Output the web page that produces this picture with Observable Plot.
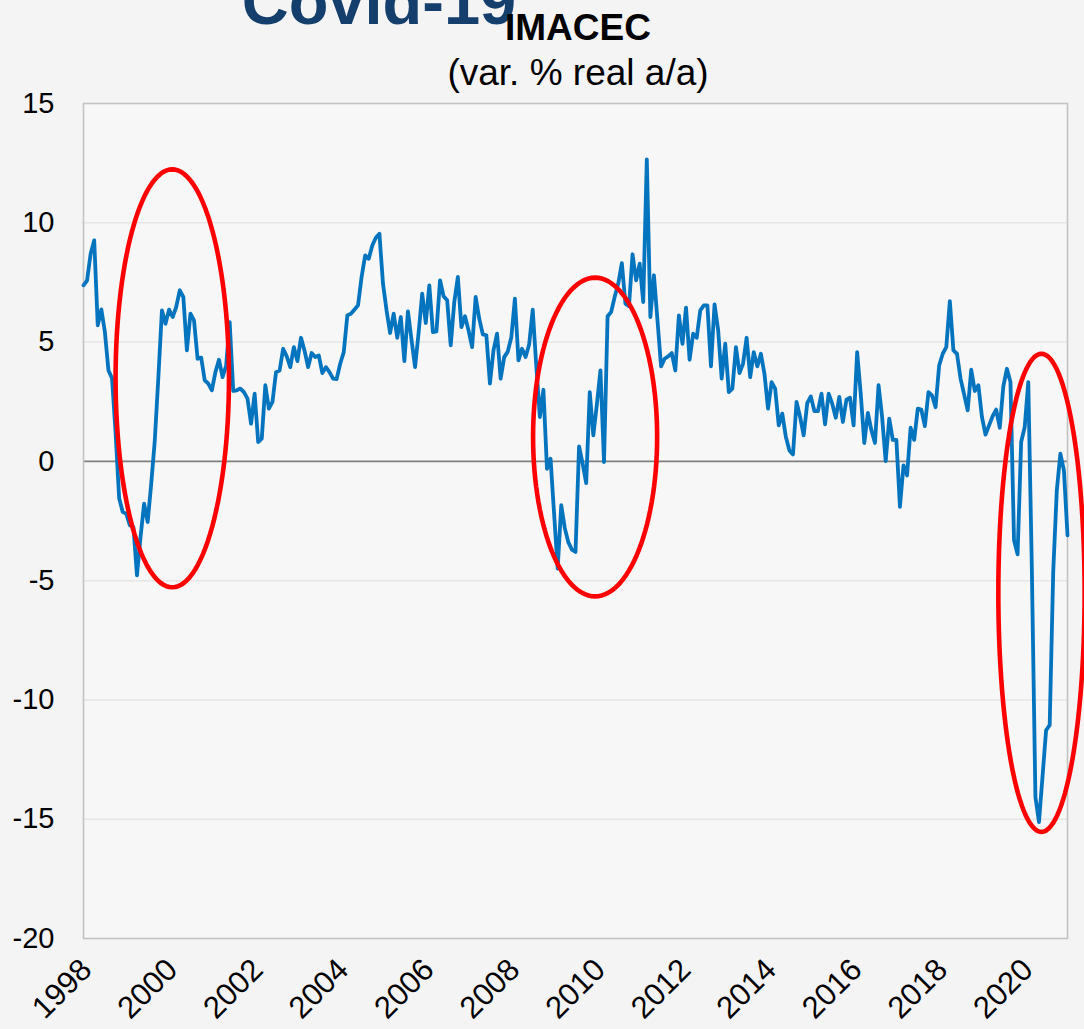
<!DOCTYPE html>
<html><head><meta charset="utf-8">
<script src="https://cdn.jsdelivr.net/npm/d3@7"></script>
<script src="https://cdn.jsdelivr.net/npm/@observablehq/plot@0.6"></script>
<style>
html,body{margin:0;padding:0;background:#f4f4f4;}
#wrap{position:relative;width:1084px;height:1029px;overflow:hidden;font-family:"Liberation Sans",Arial,sans-serif;background:#f4f4f4;}
.t{position:absolute;white-space:nowrap;text-align:center;line-height:1;}
#covid{left:179px;width:400px;top:-31px;font-size:65px;font-weight:bold;color:#143f6c;}
#title{left:428px;width:300px;top:9px;font-size:37px;font-weight:bold;color:#000;}
#sub{left:378px;width:400px;top:54px;font-size:37px;color:#000;}
#chart{position:absolute;left:0;top:0;}
</style></head><body>
<div id="wrap">
<div id="chart"></div>
<div class="t" id="covid">Covid-19</div>
<div class="t" id="title">IMACEC</div>
<div class="t" id="sub">(var. % real a/a)</div>
</div>
<script>
// Monthly IMACEC, % y/y, January 1998 onward
const startYear = 1998;
const imacec = [
7.38,7.58,8.7,9.26,5.7,6.37,5.42,3.81,3.48,1.2,-1.55,-2.12,
-2.2,-2.68,-2.75,-4.78,-3.17,-1.77,-2.54,-0.93,0.88,3.53,6.33,5.77,
6.36,6.05,6.47,7.17,6.89,4.65,6.19,5.91,4.3,4.35,3.4,3.26,
2.98,3.74,4.26,3.53,4.0,5.84,2.95,2.98,3.05,2.9,2.63,1.58,
2.84,0.81,0.95,3.19,2.21,2.49,3.74,3.81,4.72,4.4,3.95,4.79,
4.2,5.18,4.64,3.95,4.54,4.37,4.44,3.7,3.95,3.74,3.47,3.45,
4.09,4.58,6.12,6.19,6.36,6.54,7.73,8.63,8.49,9.05,9.37,9.54,
7.45,6.33,5.38,6.19,5.18,6.05,4.2,6.29,5.1,3.95,5.4,7.03,
5.8,7.38,5.42,5.45,7.59,6.92,6.75,4.86,6.68,7.73,5.63,6.08,
5.49,4.79,6.89,5.98,5.32,5.28,3.26,4.65,5.35,3.47,4.37,4.6,
5.2,6.82,4.23,4.72,4.37,4.9,6.36,4.0,1.86,3.0,-0.31,0.11,
-2.2,-4.5,-1.84,-2.8,-3.4,-3.7,-3.8,0.63,-0.1,-0.91,2.9,1.09,
2.4,3.81,-0.03,6.08,6.26,6.9,7.45,8.31,6.61,6.5,8.68,7.59,
8.29,6.68,12.66,6.05,7.8,5.9,3.98,4.3,4.4,4.54,3.81,6.12,
4.93,6.44,4.26,5.35,5.18,6.33,6.54,6.54,3.98,6.58,5.52,3.47,
4.93,2.9,3.05,4.79,3.7,4.1,5.18,3.53,4.58,3.98,4.51,3.67,
2.21,3.32,3.05,1.51,2.0,1.02,0.46,0.29,2.49,1.86,1.09,2.44,
2.72,2.11,2.11,2.84,1.55,2.84,2.42,1.83,2.7,1.65,2.59,2.67,
1.51,4.58,2.84,0.77,2.03,1.3,0.77,3.19,1.86,0.01,1.79,0.9,
0.9,-1.91,-0.17,-0.59,1.41,0.9,2.21,2.17,1.48,2.9,2.76,2.27,
4.02,4.51,4.79,6.72,4.65,4.51,3.47,2.81,2.14,3.84,2.95,3.19,
1.86,1.12,1.51,1.89,2.17,1.41,3.14,3.88,3.33,-3.31,-3.9,0.81,
1.44,3.32,-4.5,-14.07,-15.12,-13.2,-11.27,-11.06,-4.6,-1.22,0.32,-0.38,
-3.1
];
const yTicks = [-20,-15,-10,-5,0,5,10,15];
const gridValues = [-15,-10,-5,5,10];
const xTickYears = [1998,2000,2002,2004,2006,2008,2010,2012,2014,2016,2018,2020];
// highlighted episodes: centre (months since Jan 1998, value) and radii (months, points)
const ellipseCentersX = [24.9, 143.5, 268.7];
const ellipseCentersY = [3.48, 1.02, -5.51];
const ellipseRadiiX = [15.9, 17.4, 12.1];
const ellipseRadiiY = [8.76, 6.68, 10.02];

const series = imacec.map((v, i) => ({i, v}));
const ellPts = [];
ellipseCentersX.forEach((cx, k) => {
  for (let a = 0; a < 360; a += 3) {
    const t = a * Math.PI / 180;
    ellPts.push({id: k, x: cx + ellipseRadiiX[k] * Math.cos(t), y: ellipseCentersY[k] + ellipseRadiiY[k] * Math.sin(t)});
  }
});
const nMonths = imacec.length - 1;

const chart = Plot.plot({
  width: 1084, height: 1029,
  marginLeft: 83, marginRight: 17, marginTop: 103, marginBottom: 91,
  style: {background: "transparent", fontFamily: "'Liberation Sans', Arial, sans-serif", overflow: "visible", color: "#000"},
  x: {type: "linear", domain: [0, nMonths], label: null},
  y: {domain: [-20, 15], label: null},
  marks: [
    Plot.frame({fill: "#f7f7f7", stroke: null}),
    Plot.ruleY(gridValues, {stroke: "#e6e6e6", strokeWidth: 1.5}),
    Plot.ruleY([0], {stroke: "#7f7f7f", strokeWidth: 1.6}),
    Plot.frame({stroke: "#c3c3c3", strokeWidth: 1.6}),
    Plot.line(series, {x: "i", y: "v", stroke: "#0474bf", strokeWidth: 3.8, strokeLinejoin: "round"}),
    Plot.line(ellPts, {x: "x", y: "y", z: "id", stroke: "#ff0000", strokeWidth: 4.6, curve: "linear-closed"}),
    Plot.axisY({ticks: yTicks, tickSize: 0, tickPadding: 29, fontSize: 29, tickFormat: d => String(d), label: null}),
    Plot.axisX({ticks: xTickYears.map(y => (y - startYear) * 12), tickFormat: d => String(startYear + d / 12),
      tickRotate: -45, tickSize: 0, tickPadding: 26, dx: 3, fontSize: 31, label: null})
  ]
});
document.getElementById("chart").appendChild(chart);
</script>
</body></html>
